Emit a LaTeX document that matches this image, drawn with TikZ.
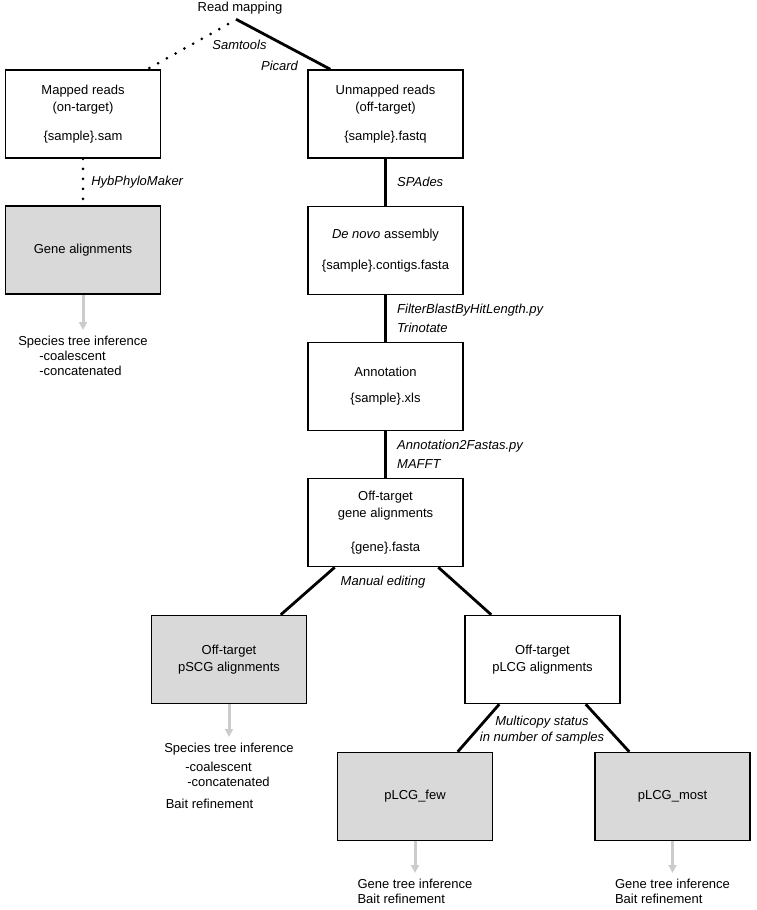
\documentclass[tikz,border=0pt]{standalone}
\usepackage{fontspec}
\setmainfont{Liberation Sans}
\usetikzlibrary{arrows.meta}
\definecolor{AlnGray}{HTML}{D9D9D9}
\definecolor{OutGray}{HTML}{CCCCCC}

\begin{document}
\begin{tikzpicture}[
  x=1pt,y=-1pt,
  every node/.style={font=\fontsize{13}{17}\selectfont},
  box/.style={draw,line width=1.5pt,minimum width=155pt,minimum height=88pt,align=center,inner sep=2pt},
  alnbox/.style={box,fill=AlnGray},
  tool/.style={font=\fontsize{13}{18.5}\selectfont\itshape,align=left},
  link/.style={line width=2.8pt},
  dotlink/.style={line width=3pt,line cap=round,dash pattern=on 0pt off 10pt},
  outarrow/.style={draw=OutGray,line width=3pt,-{Triangle[width=8pt,length=8pt]}},
  result/.style={font=\fontsize{13}{15}\selectfont,align=left,inner sep=0pt,outer xsep=0pt,outer ysep=6pt,anchor=north}
]
  \useasboundingbox (0,0) rectangle (756,910);
  % mapping step
  \node[anchor=base] (readmap) at (240,11.5) {Read mapping};
  \node[box] (mapped) at (83,114) {Mapped reads\\(on-target)\\[12pt]\{sample\}.sam};
  \node[box] (unmapped) at (385.5,114) {Unmapped reads\\(off-target)\\[12pt]\{sample\}.fastq};
  \node[tool] (samtools) at (239.5,45) {Samtools};
  \node[tool] (picard) at (279.5,66) {Picard};
  \draw[dotlink] ([xshift=-12pt,yshift=-6.5pt]readmap.south) -- ([xshift=-14pt]mapped.north east);
  \draw[link] ([xshift=-4pt,yshift=-1.5pt]readmap.south) -- ([xshift=23pt]unmapped.north west);

  % on-target branch
  \node[alnbox] (genealn) at (83,250) {Gene alignments};
  \draw[dotlink] (mapped) -- node[tool,anchor=west,xshift=3.5pt] (hybphylo) {HybPhyloMaker} (genealn);
  \node[result] (sptreeA) at (83,330) {Species tree inference\\\hspace{21pt}-coalescent\\\hspace{21pt}-concatenated};
  \draw[outarrow] (genealn) -- (sptreeA);

  % off-target branch
  \node[box] (denovo) at (385.5,250.5) {\textit{De novo} assembly\\[14pt]\{sample\}.contigs.fasta};
  \node[box] (annot) at (385.5,386.5) {Annotation\\[9pt]\{sample\}.xls};
  \node[box] (offgene) at (385.5,522.5) {Off-target\\gene alignments\\[17pt]\{gene\}.fasta};
  \draw[link] (unmapped) -- node[tool,anchor=west,xshift=7pt] (spades) {SPAdes} (denovo);
  \draw[link] (denovo) -- node[tool,anchor=west,xshift=7pt] (filterblast) {FilterBlastByHitLength.py\\Trinotate} (annot);
  \draw[link] (annot) -- node[tool,anchor=west,xshift=7pt] (annot2fasta) {Annotation2Fastas.py\\MAFFT} (offgene);

  % manual editing split
  \node[alnbox] (pscg) at (229,659.5) {Off-target\\pSCG alignments};
  \node[box] (plcg) at (542.5,659.5) {Off-target\\pLCG alignments};
  \node[tool] (manual) at (383,582) {Manual editing};
  \draw[link] ([xshift=27.5pt]offgene.south west) -- ([xshift=-26.5pt]pscg.north east);
  \draw[link] ([xshift=-25.5pt]offgene.south east) -- ([xshift=27pt]plcg.north west);
  \node[result] (sptreeB) at (229,737) {Species tree inference\\[4pt]\hspace{21pt}-coalescent\\\hspace{23pt}-concatenated\\[7pt]\hspace{1.5pt}Bait refinement};
  \draw[outarrow] (pscg) -- (sptreeB);

  % multicopy split
  \node[alnbox] (few) at (415,796.5) {pLCG\_few};
  \node[alnbox] (most) at (672.5,796.5) {pLCG\_most};
  \node[tool,align=center,font=\fontsize{13}{16}\selectfont\itshape] (multicopy) at (542,730) {Multicopy status\\in number of samples};
  \draw[link] ([xshift=35pt]plcg.south west) -- ([xshift=-35.5pt]few.north east);
  \draw[link] ([xshift=-35pt]plcg.south east) -- ([xshift=35pt]most.north west);
  \node[result] (genetreeA) at (415,873) {Gene tree inference\\Bait refinement};
  \node[result] (genetreeB) at (672.5,873) {Gene tree inference\\Bait refinement};
  \draw[outarrow] (few) -- (genetreeA);
  \draw[outarrow] (most) -- (genetreeB);
\end{tikzpicture}
\end{document}
